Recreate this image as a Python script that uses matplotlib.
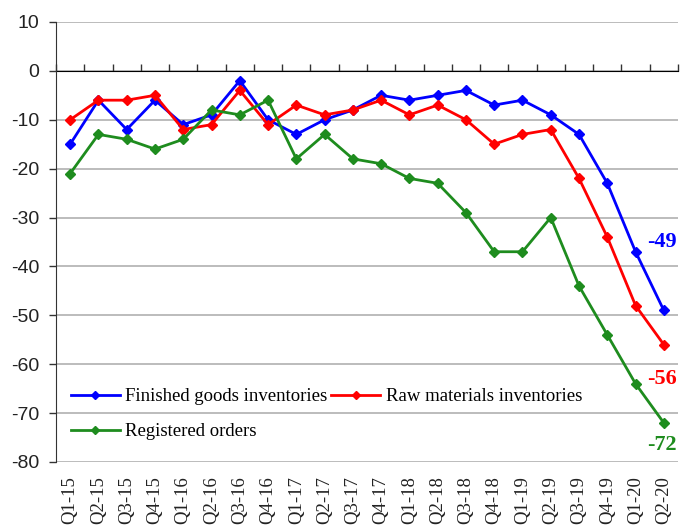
import matplotlib
matplotlib.use('Agg')
import matplotlib.pyplot as plt
import numpy as np

plt.rcParams['axes.unicode_minus'] = False

quarters = ['Q1-15', 'Q2-15', 'Q3-15', 'Q4-15', 'Q1-16', 'Q2-16', 'Q3-16', 'Q4-16',
            'Q1-17', 'Q2-17', 'Q3-17', 'Q4-17', 'Q1-18', 'Q2-18', 'Q3-18', 'Q4-18',
            'Q1-19', 'Q2-19', 'Q3-19', 'Q4-19', 'Q1-20', 'Q2-20']
finished = [-15, -6, -12, -6, -11, -9, -2, -10, -13, -10, -8, -5, -6, -5, -4, -7,
            -6, -9, -13, -23, -37, -49]
raw = [-10, -6, -6, -5, -12, -11, -4, -11, -7, -9, -8, -6, -9, -7, -10, -15,
       -13, -12, -22, -34, -48, -56]
orders = [-21, -13, -14, -16, -14, -8, -9, -6, -18, -13, -18, -19, -22, -23, -29, -37,
          -37, -30, -44, -54, -64, -72]

serif = ['Liberation Serif', 'DejaVu Serif']
sans = ['Liberation Sans', 'DejaVu Sans']
blue, red, green = '#0000ff', '#ff0000', '#1e8c1e'

fig = plt.figure(figsize=(6.8, 5.29), dpi=100)
ax = fig.add_axes([0.0824, 0.1267, 0.9146, 0.8318])

x = np.arange(len(quarters))
l1, = ax.plot(x, finished, color=blue, lw=2, marker='D', ms=5.5, label='Finished goods inventories')
l2, = ax.plot(x, raw, color=red, lw=2, marker='D', ms=5.5, label='Raw materials inventories')
l3, = ax.plot(x, orders, color=green, lw=2, marker='D', ms=5.5, label='Registered orders')

ax.set_xlim(-0.5, len(quarters) - 0.5)
ax.set_ylim(-80, 10)
ax.set_yticks(np.arange(-80, 11, 10))
for lab in ax.get_yticklabels():
    lab.set_family(sans)
ax.tick_params(axis='y', labelsize=14, direction='out', length=5, width=1, pad=7,
               colors='#333333', labelcolor='#222222')
ax.set_xticks(x)
ax.set_xticklabels(quarters, rotation=90, fontsize=13.5, family=serif, color='#222222')
ax.tick_params(axis='x', length=0, pad=10)

# gridlines
for v in np.arange(-80, 11, 10):
    ax.axhline(v, color='#b0b0b0', lw=1.2, zorder=0)

for s in ['top', 'right', 'bottom']:
    ax.spines[s].set_visible(False)
ax.spines['left'].set_color('#333333')

# category axis crossing at zero
sec = ax.secondary_xaxis(80 / 90)
sec.set_xticks(np.arange(-0.5, len(quarters), 1))
sec.set_xticklabels([])
sec.tick_params(direction='out', length=5, width=1, colors='#333333')
sec.spines['bottom'].set_color('#333333')
sec.spines['bottom'].set_linewidth(1.2)

ax.legend([l1, l3, l2], [l1.get_label(), l3.get_label(), l2.get_label()],
          loc='lower left', bbox_to_anchor=(0.0, 0.015), ncol=2, frameon=False,
          prop={'family': serif, 'size': 13.5}, handlelength=2.6, markerscale=0.8,
          columnspacing=0.2, handletextpad=0.3, labelspacing=0.95, borderpad=0.3)

ax.annotate('-49', (x[-1], finished[-1]), xytext=(-1, 49), textcoords='offset points',
            ha='center', va='center', color=blue, fontsize=16, fontweight='bold', family=serif)
ax.annotate('-56', (x[-1], raw[-1]), xytext=(-1, -25), textcoords='offset points',
            ha='center', va='center', color=red, fontsize=16, fontweight='bold', family=serif)
ax.annotate('-72', (x[-1], orders[-1]), xytext=(-1, -16), textcoords='offset points',
            ha='center', va='center', color=green, fontsize=16, fontweight='bold', family=serif)

fig.savefig('out.png', dpi=100)
